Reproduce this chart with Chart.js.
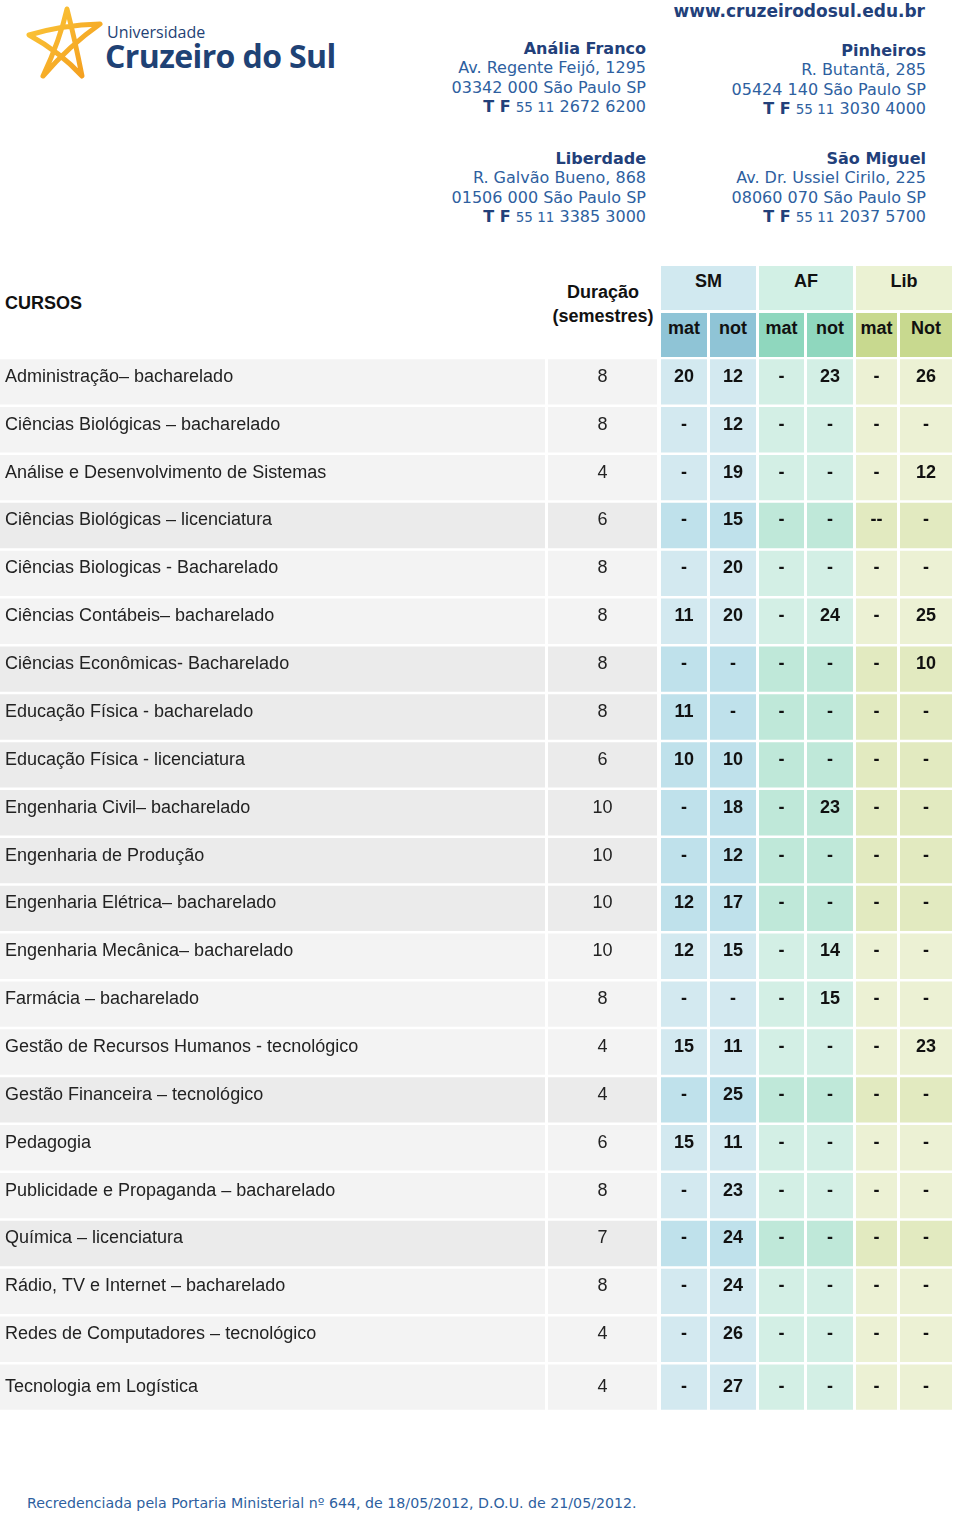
<!DOCTYPE html>
<html lang="pt-BR">
<head>
<meta charset="utf-8">
<title>Cursos - Cruzeiro do Sul</title>
<script src="https://cdn.jsdelivr.net/npm/chart.js@4.4.1/dist/chart.umd.min.js"></script>
<style>
  html, body { margin: 0; padding: 0; background: #fff; }
  body { width: 960px; height: 1516px; position: relative; overflow: hidden; }
  .abs { position: absolute; }
  .brand1 { left: 107px; top: 21px; font: 16px "Open Sans", sans-serif; color: #1f4275; }
  .brand2 { left: 105px; top: 34px; font: 700 32px "Open Sans", sans-serif; color: #1f4275; letter-spacing: -0.6px; }
  .addr { font: 16px "DejaVu Sans", sans-serif; color: #2e5f9f; text-align: right; line-height: 19.3px; white-space: nowrap; }
  .addr b { color: #22407a; }
  .addr small { font-size: 13.5px; }
  .www { right: 35px; top: 1px; font: 700 17px "DejaVu Sans", sans-serif; color: #22407a; }
  .hd { font: 700 18px "Liberation Sans", Arial, sans-serif; color: #111; display: flex; align-items: center; justify-content: center; }
  .foot { left: 27px; top: 1495px; font: 14.2px "DejaVu Sans", sans-serif; color: #2e5f9f; white-space: nowrap; }
  #table { position: absolute; left: 0; top: 358px; }
</style>
</head>
<body>

<svg class="abs" style="left:0;top:0" width="110" height="90">
  <defs>
    <linearGradient id="g" x1="0" y1="0" x2="1" y2="1">
      <stop offset="0" stop-color="#fbc93a"/>
      <stop offset="1" stop-color="#f39a1c"/>
    </linearGradient>
  </defs>
  <path d="M67 9 Q60 40 43 76 Q70 45 100 24 Q62 25 29 35 Q60 52 82 76 Q75 40 67 9 Z"
        fill="none" stroke="url(#g)" stroke-width="5" stroke-linejoin="round"/>
</svg>
<div class="abs brand1">Universidade</div>
<div class="abs brand2">Cruzeiro do Sul</div>

<div class="abs www">www.cruzeirodosul.edu.br</div>

<div class="abs addr" style="right:314px;top:39px"><b>Anália Franco</b><br>Av. Regente Feijó, 1295<br>03342 000 São Paulo SP<br><b>T F</b> <small>55 11</small> 2672 6200</div>
<div class="abs addr" style="right:34px;top:41px"><b>Pinheiros</b><br>R. Butantã, 285<br>05424 140 São Paulo SP<br><b>T F</b> <small>55 11</small> 3030 4000</div>
<div class="abs addr" style="right:314px;top:149px"><b>Liberdade</b><br>R. Galvão Bueno, 868<br>01506 000 São Paulo SP<br><b>T F</b> <small>55 11</small> 3385 3000</div>
<div class="abs addr" style="right:34px;top:149px"><b>São Miguel</b><br>Av. Dr. Ussiel Cirilo, 225<br>08060 070 São Paulo SP<br><b>T F</b> <small>55 11</small> 2037 5700</div>

<!-- table header -->
<div class="abs hd" style="left:5px;top:290px;height:26px;justify-content:flex-start">CURSOS</div>
<div class="abs hd" style="left:548px;top:280px;width:110px;height:48px;text-align:center;line-height:24px">Duração<br>(semestres)</div>
<div class="abs hd" style="left:661px;top:266px;width:95px;height:44px;background:#d1e9f0;align-items:flex-start;padding-top:5px;box-sizing:border-box">SM</div>
<div class="abs hd" style="left:759px;top:266px;width:94px;height:44px;background:#d2f0e5;align-items:flex-start;padding-top:5px;box-sizing:border-box">AF</div>
<div class="abs hd" style="left:856px;top:266px;width:96px;height:44px;background:#ebf2d3;align-items:flex-start;padding-top:5px;box-sizing:border-box">Lib</div>
<div class="abs hd" style="left:661px;top:313px;width:46px;height:44px;background:#8fc4d6;align-items:flex-start;padding-top:5px;box-sizing:border-box">mat</div>
<div class="abs hd" style="left:710px;top:313px;width:46px;height:44px;background:#8fc4d6;align-items:flex-start;padding-top:5px;box-sizing:border-box">not</div>
<div class="abs hd" style="left:759px;top:313px;width:45px;height:44px;background:#8fd7be;align-items:flex-start;padding-top:5px;box-sizing:border-box">mat</div>
<div class="abs hd" style="left:807px;top:313px;width:46px;height:44px;background:#8fd7be;align-items:flex-start;padding-top:5px;box-sizing:border-box">not</div>
<div class="abs hd" style="left:856px;top:313px;width:41px;height:44px;background:#c8d98f;align-items:flex-start;padding-top:5px;box-sizing:border-box">mat</div>
<div class="abs hd" style="left:900px;top:313px;width:52px;height:44px;background:#c8d98f;align-items:flex-start;padding-top:5px;box-sizing:border-box">Not</div>

<canvas id="table" width="960" height="1053"></canvas>

<div class="abs foot">Recredenciada pela Portaria Ministerial nº 644, de 18/05/2012, D.O.U. de 21/05/2012.</div>

<script>
// data
const courses = [
  'Administração– bacharelado',
  'Ciências Biológicas – bacharelado',
  'Análise e Desenvolvimento de Sistemas',
  'Ciências Biológicas – licenciatura',
  'Ciências Biologicas - Bacharelado',
  'Ciências Contábeis– bacharelado',
  'Ciências Econômicas- Bacharelado',
  'Educação Física - bacharelado',
  'Educação Física - licenciatura',
  'Engenharia Civil– bacharelado',
  'Engenharia de Produção',
  'Engenharia Elétrica– bacharelado',
  'Engenharia Mecânica– bacharelado',
  'Farmácia – bacharelado',
  'Gestão de Recursos Humanos - tecnológico',
  'Gestão Financeira – tecnológico',
  'Pedagogia',
  'Publicidade e Propaganda – bacharelado',
  'Química – licenciatura',
  'Rádio, TV e Internet – bacharelado',
  'Redes de Computadores – tecnológico',
  'Tecnologia em Logística'
];
const duracao = [8, 8, 4, 6, 8, 8, 8, 8, 6, 10, 10, 10, 10, 8, 4, 4, 6, 8, 7, 8, 4, 4];
const smMat  = [20, '-', '-', '-', '-', 11, '-', 11, 10, '-', '-', 12, 12, '-', 15, '-', 15, '-', '-', '-', '-', '-'];
const smNot  = [12, 12, 19, 15, 20, 20, '-', '-', 10, 18, 12, 17, 15, '-', 11, 25, 11, 23, 24, 24, 26, 27];
const afMat  = ['-', '-', '-', '-', '-', '-', '-', '-', '-', '-', '-', '-', '-', '-', '-', '-', '-', '-', '-', '-', '-', '-'];
const afNot  = [23, '-', '-', '-', '-', 24, '-', '-', '-', 23, '-', '-', 14, 15, '-', '-', '-', '-', '-', '-', '-', '-'];
const libMat = ['-', '-', '-', '--', '-', '-', '-', '-', '-', '-', '-', '-', '-', '-', '-', '-', '-', '-', '-', '-', '-', '-'];
const libNot = [26, '-', 12, '-', '-', 25, 10, '-', '-', '-', '-', '-', '-', '-', 23, '-', '-', '-', '-', '-', '-', '-'];

// layout / style
const colEdges = [[0, 545], [548, 657], [661, 707], [710, 756], [759, 804], [807, 853], [856, 897], [900, 952]];
const darkRows = [3, 6, 7, 8, 9, 10, 11, 15, 18];
const colColors = [
  ['#f3f3f3', '#ebebeb'], ['#f3f3f3', '#ebebeb'],
  ['#d3e9f0', '#bfe1eb'], ['#d3e9f0', '#bfe1eb'],
  ['#d3efe5', '#bfe8d9'], ['#d3efe5', '#bfe8d9'],
  ['#ecf1d4', '#e2eac0'], ['#ecf1d4', '#e2eac0']
];
const columns = [courses, duracao, smMat, smNot, afMat, afNot, libMat, libNot];

const datasets = columns.map((texts, c) => ({
  label: 'c' + c,
  texts: texts,
  align: c === 0 ? 'left' : 'center',
  bold: c >= 2,
  data: courses.map(() => colEdges[c]),
  backgroundColor: courses.map((_, r) => colColors[c][darkRows.includes(r) ? 1 : 0]),
  borderWidth: 0,
  grouped: false,
  categoryPercentage: 1,
  barPercentage: 0.948
}));

const cellText = {
  id: 'cellText',
  afterDatasetsDraw(chart) {
    const ctx = chart.ctx;
    ctx.save();
    ctx.textBaseline = 'middle';
    chart.data.datasets.forEach((ds, i) => {
      const meta = chart.getDatasetMeta(i);
      ctx.font = (ds.bold ? 'bold ' : '') + '18px "Liberation Sans", Arial, sans-serif';
      ctx.fillStyle = ds.bold ? '#111' : '#222';
      meta.data.forEach((el, r) => {
        const left = Math.min(el.x, el.base), right = Math.max(el.x, el.base);
        // text sits in the upper part of each cell; the last row is a bit lower
        const y = el.y - (r === meta.data.length - 1 ? 0 : 5);
        if (ds.align === 'left') {
          ctx.textAlign = 'left';
          ctx.fillText(String(ds.texts[r]), left + 5, y);
        } else {
          ctx.textAlign = 'center';
          ctx.fillText(String(ds.texts[r]), (left + right) / 2, y);
        }
      });
    });
    ctx.restore();
  }
};

new Chart(document.getElementById('table'), {
  type: 'bar',
  data: { labels: courses, datasets: datasets },
  options: {
    indexAxis: 'y',
    responsive: false,
    animation: false,
    devicePixelRatio: 1,
    layout: { padding: 0 },
    scales: {
      x: { type: 'linear', min: 0, max: 960, display: false },
      y: { display: false }
    },
    plugins: { legend: { display: false }, tooltip: { enabled: false } }
  },
  plugins: [cellText]
});
</script>
</body>
</html>
